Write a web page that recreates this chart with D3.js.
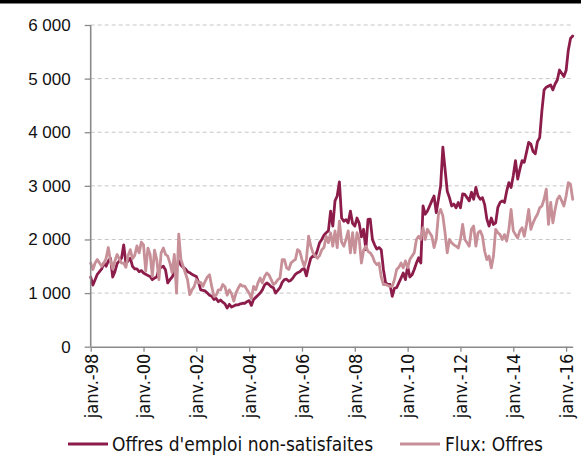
<!DOCTYPE html>
<html><head><meta charset="utf-8">
<script src="https://cdn.jsdelivr.net/npm/d3@7"></script>
<style>
html,body{margin:0;padding:0;background:#fff;}
svg{display:block;}
</style></head>
<body>
<svg id="chart" width="581" height="462"></svg>
<script>
// Monthly series, janv. 1998 .. avr. 2016 (220 months)
const startYear = 1998;
const seriesNames = ["Offres d'emploi non-satisfaites", "Flux: Offres"];
const seriesColors = ["#8c1d4b", "#c78f97"];
const offresNonSatisfaites = [
1300,1150,1250,1350,1400,1450,1560,1500,1600,1650,1300,1400,
1550,1600,1650,1900,1550,1600,1650,1500,1450,1450,1400,1420,
1375,1350,1330,1310,1250,1280,1300,1450,1480,1500,1430,1190,
1250,1300,1380,1480,1600,1520,1480,1450,1400,1380,1350,1330,
1310,1200,1060,1050,1040,1000,960,940,880,900,840,870,
830,800,720,790,740,760,780,780,800,810,810,840,
860,770,880,920,960,1000,1060,1150,1190,1160,1120,1100,
1000,1050,1100,1200,1250,1260,1220,1240,1290,1350,1380,1400,
1440,1460,1320,1500,1650,1690,1680,1800,1940,2000,2080,2125,
2160,2530,2250,2720,2810,3075,2400,2340,2370,2310,2530,2300,
2250,2400,2300,2050,2190,1810,2375,2380,2000,1900,1820,1850,
1810,1440,1190,1160,1160,940,1090,1100,1190,1280,1375,1250,
1500,1300,1340,1440,1560,1660,1560,2625,2470,2530,2625,2720,
2810,2500,2750,3000,3720,3310,2900,2780,2625,2660,2590,2690,
2590,2850,2840,2780,2720,2880,2750,2970,2810,2750,2780,2650,
2380,2250,2400,2280,2310,2600,2690,2720,2690,2900,3060,2970,
3190,3470,3125,3310,3470,3440,3625,3810,3780,3640,3600,3825,
3900,4400,4790,4840,4860,4880,4790,4900,4975,5160,5100,5040,
5150,5530,5750,5795
];
const fluxOffres = [
1560,1440,1560,1625,1560,1500,1560,1650,1850,1600,1450,1600,
1720,1640,1560,1560,1480,1700,1810,1640,1700,1880,1750,1950,
1900,1410,1840,1720,1310,1800,1625,1250,1750,1840,1720,1690,
1560,1380,1720,1000,2100,1625,1500,1375,1250,970,1060,1120,
1250,1190,1200,1125,1220,1300,1340,1120,940,960,1060,1060,
1160,1120,960,1060,990,850,1000,1090,1160,1130,1130,1060,
1000,900,1125,1060,1190,1280,1190,1310,1375,1340,1250,1160,
1190,1250,1280,1625,1625,1470,1440,1560,1600,1625,1810,1780,
1625,1500,1625,2060,1875,1750,1690,1650,1700,1810,1850,2060,
1940,2125,1875,2160,1850,2340,1950,1875,2000,2160,1750,2125,
1750,2125,2000,1560,1800,1875,1780,1750,1690,1580,1530,1560,
1300,1160,1160,1140,1125,1125,1250,1440,1480,1560,1470,1600,
1470,1625,1690,1750,2000,2060,2000,2220,2000,2190,2125,2060,
1850,2000,2470,2560,2440,2125,1750,2000,1940,1900,1875,1840,
2000,2280,2000,1940,1875,2190,2250,1875,2125,2160,2060,1780,
1625,1690,1470,1690,2190,2125,2090,2000,2090,1970,2190,2560,
2160,2090,2030,2160,2220,2060,2280,2560,2190,2310,2400,2470,
2590,2625,2750,2940,2280,2690,2310,2560,2750,2810,2720,2625,
2810,3060,3030,2750
];
const xTickMonths = [0,24,48,72,96,120,144,168,192,216];
const xTickLabels = ["janv.-98","janv.-00","janv.-02","janv.-04","janv.-06","janv.-08","janv.-10","janv.-12","janv.-14","janv.-16"];
const yTicks = [0,1000,2000,3000,4000,5000,6000];
const yTickLabels = ["0","1 000","2 000","3 000","4 000","5 000","6 000"];

(function(){
const svg = d3.select("#chart");
const W = 581, H = 462;
const mLeft = 90.7, mRight = 572.7, mTop = 25, mBottom = 346.7;
const nMonths = offresNonSatisfaites.length;

const x = d3.scaleLinear().domain([0, nMonths - 1]).range([mLeft, mRight]);
const y = d3.scaleLinear().domain([0, 6000]).range([mBottom, mTop]);

// top black band
svg.append("rect").attr("x",0).attr("y",0).attr("width",W).attr("height",3.5).attr("fill","#000");

// gridlines
svg.append("g").selectAll("line").data(yTicks.filter(d=>d>0)).join("line")
  .attr("x1", mLeft).attr("x2", mRight)
  .attr("y1", d=>y(d)).attr("y2", d=>y(d))
  .attr("stroke","#c6c6c6").attr("stroke-width",1).attr("stroke-dasharray","4,3");

// series
const line = d3.line().x((d,i)=>x(i)).y(d=>y(d));
const allSeries = [offresNonSatisfaites, fluxOffres];
allSeries.forEach((s,k)=>{
  svg.append("path").datum(s).attr("d", line)
    .attr("fill","none").attr("stroke", seriesColors[k])
    .attr("stroke-width", 2.8).attr("stroke-linejoin","round").attr("stroke-linecap","round");
});

// y axis
const yAxis = d3.axisLeft(y).tickValues(yTicks).tickFormat((d,i)=>yTickLabels[i]).tickSize(6).tickPadding(14);
const gy = svg.append("g").attr("transform",`translate(${mLeft},0)`).call(yAxis);
gy.select(".domain").attr("stroke","#8a8a8a").attr("stroke-width",1.6).attr("d",`M0,${mTop}V${mBottom}`);
gy.selectAll(".tick line").attr("stroke","#8a8a8a").attr("stroke-width",1.3);
gy.selectAll(".tick text").attr("font-family","'Liberation Sans', Arial, sans-serif").attr("font-size",17).attr("fill","#111");

// x axis
const xAxis = d3.axisBottom(x).tickValues(xTickMonths).tickFormat((d,i)=>xTickLabels[i]).tickSize(5).tickSizeOuter(0);
const gx = svg.append("g").attr("transform",`translate(0,${mBottom})`).call(xAxis);
gx.select(".domain").attr("stroke","#8a8a8a").attr("stroke-width",1.6);
gx.selectAll(".tick line").attr("stroke","#8a8a8a").attr("stroke-width",1.3);
gx.selectAll(".tick text")
  .attr("font-family","'Liberation Sans Narrow','DejaVu Sans Condensed',sans-serif").attr("font-size",18).attr("fill","#111")
  .attr("transform","rotate(-90)").attr("text-anchor","end").attr("dy","0.35em").attr("x",-7).attr("y",0);

// legend
const legendY = 444;
const legendItems = [{x:68, tx:112}, {x:400, tx:445}];
legendItems.forEach((it,k)=>{
  svg.append("line").attr("x1",it.x).attr("x2",it.x+40).attr("y1",legendY).attr("y2",legendY)
    .attr("stroke",seriesColors[k]).attr("stroke-width",2.8);
  svg.append("text").attr("x",it.tx).attr("y",legendY).attr("dy","0.35em")
    .attr("font-family","'Liberation Sans Narrow','DejaVu Sans Condensed',sans-serif").attr("font-size",19).attr("fill","#111")
    .text(seriesNames[k]);
});
})();
</script>
</body></html>
